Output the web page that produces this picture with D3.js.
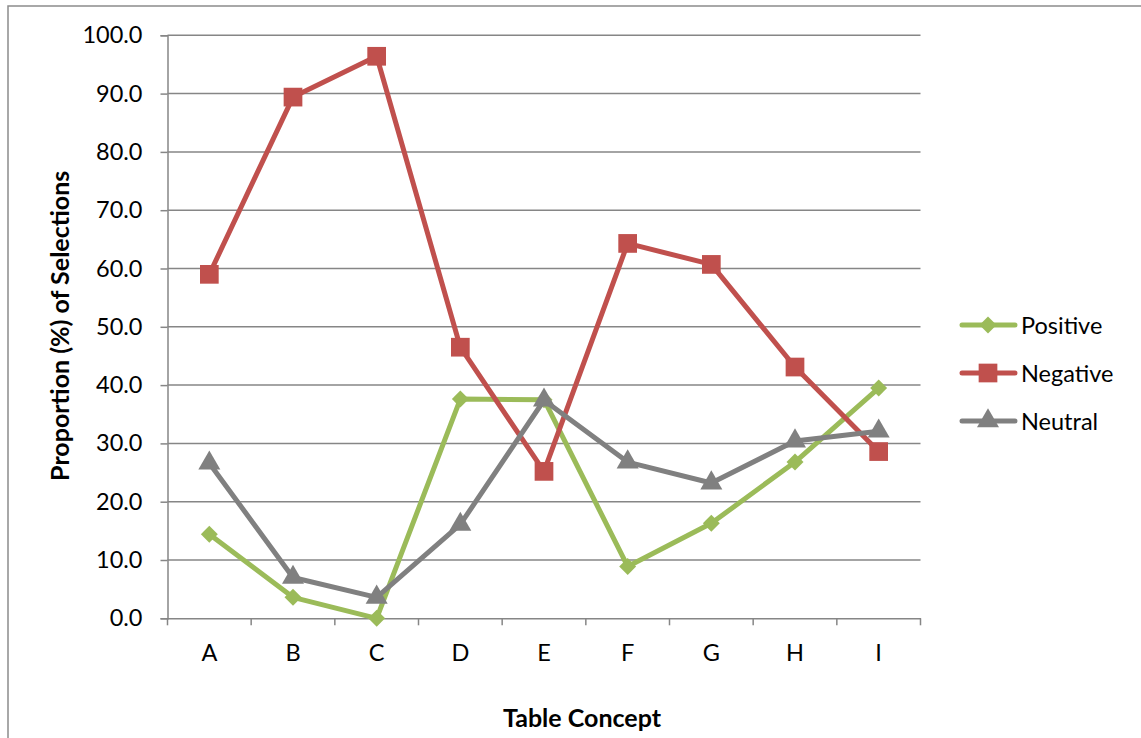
<!DOCTYPE html>
<html><head><meta charset="utf-8">
<script src="https://cdn.jsdelivr.net/npm/d3@7"></script>
<style>body{margin:0;background:#fff}svg{display:block}text{font-family:Lato,"Open Sans",sans-serif;fill:#000}</style>
</head><body><svg id="c" width="1141" height="738"></svg>
<script>
const categories = ["A","B","C","D","E","F","G","H","I"];
const positive = [14.4, 3.6, 0.0, 37.6, 37.5, 8.9, 16.3, 26.8, 39.5];
const negative = [59.0, 89.4, 96.4, 46.5, 25.2, 64.3, 60.7, 43.1, 28.6];
const neutral  = [26.6, 7.0, 3.6, 16.1, 37.4, 26.8, 23.2, 30.4, 32.1];
const yTicks = [0,10,20,30,40,50,60,70,80,90,100];
const seriesNames = ["Positive","Negative","Neutral"];
(function(){
const colors = ["#9BBB59","#C0504D","#808080"];
const squareDiamond = { draw(ctx, size){ const r=Math.sqrt(size/2); ctx.moveTo(0,-r); ctx.lineTo(r,0); ctx.lineTo(0,r); ctx.lineTo(-r,0); ctx.closePath(); } };
const symbols = [squareDiamond, d3.symbolSquare, d3.symbolTriangle];
const symSizes = [144, 350, 210];

const svg = d3.select("#c");
svg.append("rect").attr("x",8).attr("y",6).attr("width",1150).attr("height",760)
  .attr("fill","none").attr("stroke","#8c8c8c").attr("stroke-width",1.5);

const pLeft=167.5, pRight=920.5, pTop=35.3, pBottom=618.3;
const x = d3.scaleBand().domain(categories).range([pLeft,pRight]);
const y = d3.scaleLinear().domain([0,100]).range([pBottom,pTop]);

svg.append("g").selectAll("line").data(yTicks.filter(d=>d>0)).join("line")
  .attr("x1",pLeft).attr("x2",pRight).attr("y1",d=>y(d)).attr("y2",d=>y(d))
  .attr("stroke","#868686").attr("stroke-width",1.5);

const ya = svg.append("g").attr("transform",`translate(${pLeft},0)`)
  .call(d3.axisLeft(y).tickValues(yTicks).tickFormat(d3.format(".1f")).tickSize(7).tickPadding(18));
ya.select(".domain").attr("stroke","#868686").attr("stroke-width",1.5);
ya.selectAll(".tick line").attr("stroke","#868686").attr("stroke-width",1.5);
ya.selectAll("text").attr("font-size",23.5).style("font-family","Lato");

const xa = svg.append("g").attr("transform",`translate(0,${pBottom})`)
  .call(d3.axisBottom(x).tickSize(0).tickPadding(26));
xa.select(".domain").attr("stroke","#868686").attr("stroke-width",1.5);
xa.selectAll("text").attr("font-size",23.5).style("font-family","Lato");
const bounds = [...categories.map(c=>x(c)), pRight];
svg.append("g").selectAll("line").data(bounds).join("line")
  .attr("x1",d=>d).attr("x2",d=>d).attr("y1",pBottom).attr("y2",pBottom+7)
  .attr("stroke","#868686").attr("stroke-width",1.5);

svg.append("text").attr("transform",`translate(69,${(pTop+pBottom)/2-1}) rotate(-90)`)
  .attr("text-anchor","middle").attr("font-size",25).attr("font-weight","bold")
  .text("Proportion (%) of Selections");
svg.append("text").attr("x",582).attr("y",727).attr("text-anchor","middle")
  .attr("font-size",25).attr("font-weight","bold").text("Table Concept");

const data = [positive, negative, neutral];
const cx = c => x(c)+x.bandwidth()/2;
const line = d3.line().x((d,i)=>cx(categories[i])).y(d=>y(d));
data.forEach((vals,k)=>{
  svg.append("path").datum(vals).attr("d",line).attr("fill","none")
    .attr("stroke",colors[k]).attr("stroke-width",5).attr("stroke-linejoin","round");
  svg.append("g").selectAll("path").data(vals).join("path")
    .attr("d",d3.symbol().type(symbols[k]).size(symSizes[k]))
    .attr("transform",(d,i)=>`translate(${cx(categories[i])},${y(d)})`)
    .attr("fill",colors[k]);
});

const lg = svg.append("g");
seriesNames.forEach((n,k)=>{
  const ly = 325 + k*48;
  lg.append("line").attr("x1",962).attr("x2",1015).attr("y1",ly).attr("y2",ly)
    .attr("stroke",colors[k]).attr("stroke-width",5).attr("stroke-linecap","round");
  lg.append("path").attr("d",d3.symbol().type(symbols[k]).size(symSizes[k])())
    .attr("transform",`translate(988,${ly})`).attr("fill",colors[k]);
  lg.append("text").attr("x",1021).attr("y",ly+8.5).attr("font-size",23.5).text(n);
});
})();
</script></body></html>
